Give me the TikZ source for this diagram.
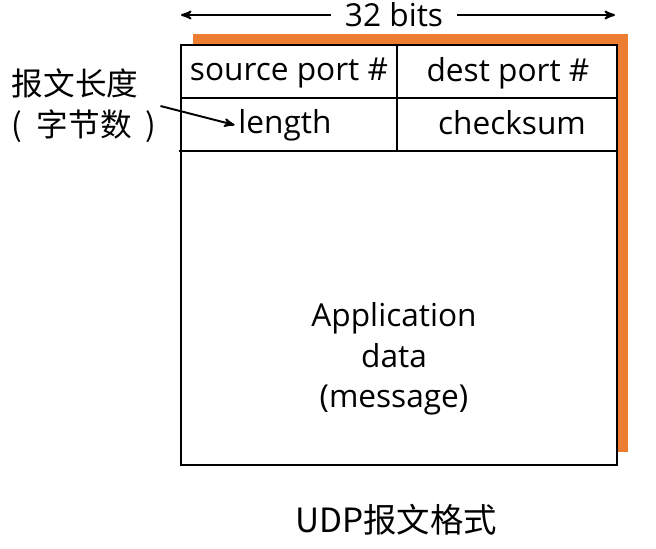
\documentclass[tikz,border=0pt]{standalone}
\usepackage{fontspec}
\setmainfont{Open Sans}
\newfontfamily\cjk{Noto Sans CJK SC}
\usetikzlibrary{arrows,positioning}
\definecolor{udporange}{HTML}{ED7D31}
\tikzset{>=stealth',
	field/.style={inner sep=2pt,font=\fontsize{18}{23}\selectfont},
	cjklabel/.style={inner sep=2pt,align=left,font=\cjk\fontsize{18}{23.5}\selectfont},
	frame/.style={line width=1.6pt},
	dim/.style={line width=1.1pt}}

\begin{document}
\begin{tikzpicture}[x=0.02cm,y=-0.02cm]
	\useasboundingbox (0,0) rectangle (656,548);
	\fill[udporange] (193,34) rectangle (628,452);
	\filldraw[frame,fill=white] (181,45) rectangle (617,465);
	\draw[frame] (181,98) -- (617,98);
	\draw[frame] (179,151) -- (617,151);
	\draw[frame] (397,45) -- (397,151);
	\node (src) at (289,73) [field] {source port \#};
	\node (dst) at (508,73) [field] {dest port \#};
	\node (len) at (285,125) [field] {length};
	\node (chk) at (512,123) [field] {checksum};
	\node (data) at (394,359) [field,align=center] {Application\\data\\(message)};
	\node (bits) at (394,15) [field,inner sep=8pt] {32 bits};
	\coordinate (bl) at (181,15);
	\coordinate (br) at (615,15);
	\draw[dim,->] (bits) -- (bl);
	\draw[dim,->] (bits) -- (br);
	\node (lenlabel) at (8,106) [cjklabel,anchor=west] {报文长度\\(\hspace{0.45em}字节数\hspace{0.45em})};
	\draw[dim,->] (lenlabel.east) -- (len.west);
	\node (title) at (396,520) [cjklabel,font=\cjk\fontsize{19}{23}\selectfont] {UDP报文格式};
\end{tikzpicture}
\end{document}
